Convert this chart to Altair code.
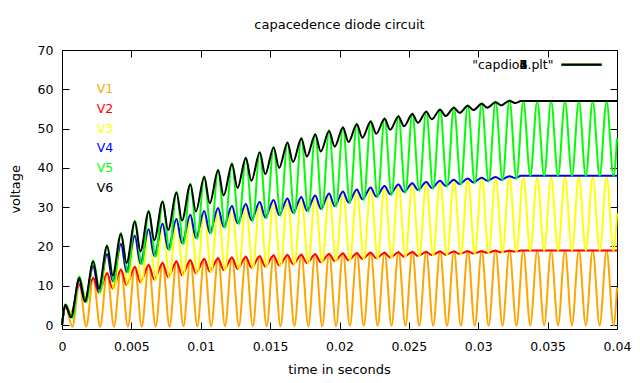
import altair as alt
import pandas as pd

# ---------------- data ----------------
PERIOD = 0.001          # one cycle of the source = 1 ms
T_END = 0.04
T_SETTLE = 0.0331       # where V2, V4, V6 become flat

names = ["V1", "V2", "V3", "V4", "V5", "V6"]
colors = ["#ffa500", "#ff0000", "#ffff00", "#0000ff", "#00ff00", "#000000"]

x_ticks = [0, 0.005, 0.01, 0.015, 0.02, 0.025, 0.03, 0.035, 0.04]
y_ticks = [0, 10, 20, 30, 40, 50, 60, 70]

# oscillating nodes: value at the crest (k+0.25 ms) and the dip (k+0.75 ms) of every cycle k
v1_peak = [4.7, 10.5, 12.2, 13.4, 14.3, 15.0, 15.5, 16.0, 16.4, 16.7,
           17.0, 17.2, 17.4, 17.6, 17.7, 17.9, 18.0, 18.1, 18.2, 18.3,
           18.4, 18.5, 18.6, 18.6, 18.7, 18.8, 18.8, 18.9, 18.9, 19.0,
           19.0, 19.1, 19.1, 19.0, 19.0, 19.0, 19.0, 19.0, 19.0, 19.0]
v1_trough = [-0.4, -0.4, -0.4, -0.4, -0.4, -0.4, -0.4, -0.4, -0.3, -0.3,
             -0.3, -0.3, -0.3, -0.3, -0.3, -0.3, -0.3, -0.3, -0.3, -0.3,
             -0.2, -0.2, -0.2, -0.2, -0.2, -0.2, -0.2, -0.2, -0.2, -0.2,
             -0.2, -0.2, -0.2, -0.1, -0.1, -0.1, -0.1, -0.1, -0.1, -0.1]
v3_peak = [5.0, 11.6, 15.2, 18.2, 20.8, 22.9, 24.6, 26.0, 27.2, 28.3,
           29.2, 30.0, 30.5, 31.0, 31.5, 32.0, 32.4, 32.8, 33.2, 33.7,
           34.2, 34.7, 35.2, 35.6, 36.0, 36.3, 36.6, 36.9, 37.2, 37.5,
           37.7, 37.9, 38.0, 37.8, 37.8, 37.8, 37.8, 37.8, 37.8, 37.8]
v3_trough = [2.8, 6.3, 8.0, 9.1, 10.0, 10.7, 11.4, 12.0, 12.5, 13.0,
             13.4, 13.8, 14.1, 14.4, 14.7, 15.0, 15.3, 15.6, 15.8, 16.1,
             16.3, 16.6, 16.8, 17.0, 17.2, 17.4, 17.6, 17.7, 17.9, 18.0,
             18.2, 18.3, 18.5, 18.9, 18.9, 18.9, 18.9, 18.9, 18.9, 18.9]
v5_peak = [5.3, 12.4, 16.5, 20.4, 23.5, 26.6, 29.1, 31.6, 33.9, 36.0,
           37.9, 39.6, 41.2, 42.7, 44.1, 45.4, 46.6, 47.7, 48.7, 49.6,
           50.5, 51.3, 52.0, 52.7, 53.3, 53.9, 54.5, 55.0, 55.5, 56.0,
           56.5, 56.9, 57.2, 57.0, 57.0, 57.0, 57.0, 57.0, 57.0, 57.0]
v5_trough = [1.8, 5.8, 8.4, 11.0, 13.4, 15.5, 17.4, 19.1, 20.6, 22.0,
             23.3, 24.8, 25.7, 26.5, 27.2, 27.8, 28.4, 28.9, 29.4, 30.1,
             31.0, 31.8, 32.5, 33.1, 33.7, 34.2, 34.7, 35.2, 35.7, 36.1,
             36.5, 36.8, 37.2, 37.9, 37.9, 37.9, 37.9, 37.9, 37.9, 37.9]
osc_end = [9.5, 28.5, 47.5]          # V1, V3, V5 at t = 0.04

# ripple nodes: local max (k+0.25 ms) and local min (k+0.65 ms) of cycle k, then flat
v2_max = [4.5, 10.3, 12.0, 13.2, 14.1, 14.8, 15.3, 15.8, 16.2, 16.5,
          16.8, 17.0, 17.2, 17.4, 17.5, 17.7, 17.8, 17.9, 18.0, 18.1,
          18.2, 18.3, 18.4, 18.4, 18.5, 18.6, 18.6, 18.7, 18.7, 18.8,
          18.8, 18.9, 18.9]
v2_min = [3.0, 6.5, 8.2, 9.3, 10.2, 10.9, 11.6, 12.2, 12.7, 13.2,
          13.6, 14.0, 14.3, 14.6, 14.9, 15.2, 15.5, 15.8, 16.0, 16.3,
          16.5, 16.8, 17.0, 17.2, 17.4, 17.6, 17.8, 17.9, 18.1, 18.2,
          18.4, 18.5, 18.7]
v4_max = [5.0, 11.5, 15.0, 18.0, 20.6, 22.7, 24.4, 25.8, 27.0, 28.1,
          29.0, 29.8, 30.3, 30.8, 31.3, 31.8, 32.2, 32.6, 33.0, 33.5,
          34.0, 34.5, 35.0, 35.4, 35.8, 36.1, 36.4, 36.7, 37.0, 37.3,
          37.5, 37.7, 37.9]
v4_min = [2.0, 6.0, 8.6, 11.2, 13.6, 15.7, 17.6, 19.3, 20.8, 22.2,
          23.5, 25.0, 25.9, 26.7, 27.4, 28.0, 28.6, 29.1, 29.6, 30.3,
          31.2, 32.0, 32.7, 33.3, 33.9, 34.4, 34.9, 35.4, 35.9, 36.3,
          36.7, 37.0, 37.4]
v6_max = [5.2, 12.0, 16.2, 20.1, 23.2, 26.3, 28.9, 31.4, 33.7, 35.8,
          37.7, 39.4, 41.0, 42.5, 43.9, 45.2, 46.4, 47.5, 48.5, 49.4,
          50.3, 51.1, 51.8, 52.5, 53.1, 53.7, 54.3, 54.8, 55.3, 55.8,
          56.3, 56.7, 57.1]
v6_min = [2.0, 6.0, 9.3, 12.6, 15.8, 18.8, 21.6, 24.2, 26.6, 28.9,
          31.0, 33.0, 34.9, 36.7, 38.4, 40.0, 41.5, 42.9, 44.2, 45.4,
          46.6, 47.7, 48.7, 49.7, 50.6, 51.5, 52.4, 53.2, 54.0, 54.7,
          55.3, 55.9, 56.5]
settle_level = [19.0, 38.0, 57.0]    # V2, V4, V6

label_x = 0.0025
label_y = [60, 55, 50, 45, 40, 35]
key_title = '"capdio1.plt"'
key_overprint = ["2", "3", "4", "5", "6"]   # digits printed over each other in the key

# ---------------- build the long table ----------------
rows = []


def add_osc(name, peaks, troughs, end):
    rows.append({"name": name, "t": 0.0, "v": 0.0})
    for k, (p, q) in enumerate(zip(peaks, troughs)):
        rows.append({"name": name, "t": (k + 0.25) * PERIOD, "v": p})
        rows.append({"name": name, "t": (k + 0.75) * PERIOD, "v": q})
    rows.append({"name": name, "t": T_END, "v": end})


def add_ripple(name, maxs, mins, level):
    rows.append({"name": name, "t": 0.0, "v": 0.0})
    for k, (p, q) in enumerate(zip(maxs, mins)):
        rows.append({"name": name, "t": (k + 0.25) * PERIOD, "v": p})
        rows.append({"name": name, "t": (k + 0.65) * PERIOD, "v": q})
    rows.append({"name": name, "t": T_SETTLE, "v": level})
    rows.append({"name": name, "t": T_END, "v": level})


add_osc("V1", v1_peak, v1_trough, osc_end[0])
add_ripple("V2", v2_max, v2_min, settle_level[0])
add_osc("V3", v3_peak, v3_trough, osc_end[1])
add_ripple("V4", v4_max, v4_min, settle_level[1])
add_osc("V5", v5_peak, v5_trough, osc_end[2])
add_ripple("V6", v6_max, v6_min, settle_level[2])
df = pd.DataFrame(rows)

labels_df = pd.DataFrame({"name": names, "t": [label_x] * 6, "v": label_y})
key_df = pd.DataFrame({"name": names})
frame_df = pd.DataFrame({"t": [0, T_END], "v": [-1, 70]})

FONT = "DejaVu Sans"
FS = 12.5
color_scale = alt.Scale(domain=names, range=colors)
x_scale = alt.Scale(domain=[0, T_END], nice=False, zero=False)
y_scale = alt.Scale(domain=[-1, 70], nice=False, zero=False)

x_enc = alt.X("t:Q", scale=x_scale, title=None,
              axis=alt.Axis(values=x_ticks, format="~g", orient="bottom",
                            offset=-7, tickSize=7, domain=False, grid=False,
                            labelPadding=21, labelBaseline="alphabetic",
                            labelFlush=False, labelOverlap=False))
y_enc = alt.Y("v:Q", scale=y_scale, title=None,
              axis=alt.Axis(values=y_ticks, orient="left", offset=-7,
                            tickSize=7, domain=False, grid=False,
                            labelPadding=9, labelFlush=False))
c_enc = alt.Color("name:N", scale=color_scale, legend=None)

layers = []
for n in names:
    layers.append(
        alt.Chart(df).transform_filter(alt.datum.name == n)
        .mark_line(strokeWidth=2, interpolate="monotone")
        .encode(x=x_enc, y=y_enc, color=c_enc)
    )

layers.append(
    alt.Chart(labels_df).mark_text(align="left", baseline="middle",
                                   font=FONT, fontSize=FS)
    .encode(x=x_enc, y=y_enc, text="name:N", color=c_enc)
)

# key: sample lines of all six plots drawn on the same spot, black last
layers.append(
    alt.Chart(key_df).mark_rule(strokeWidth=2)
    .encode(x=alt.value(499.5), x2=alt.value(539.5), y=alt.value(14.7), color=c_enc)
)
layers.append(
    alt.Chart(pd.DataFrame({"s": [key_title]}))
    .mark_text(align="right", baseline="middle", font=FONT, fontSize=FS, color="black")
    .encode(x=alt.value(491.5), y=alt.value(14.7), text="s:N")
)
layers.append(
    alt.Chart(pd.DataFrame({"s": key_overprint}))
    .mark_text(align="right", baseline="middle", font=FONT, fontSize=FS, color="black")
    .encode(x=alt.value(465.5), y=alt.value(14.7), text="s:N")
)

layers.append(
    alt.Chart(pd.DataFrame({"s": ["capacedence diode circuit"]}))
    .mark_text(align="center", baseline="alphabetic", font=FONT, fontSize=13, color="black")
    .encode(x=alt.value(277.5), y=alt.value(-21), text="s:N")
)
layers.append(
    alt.Chart(pd.DataFrame({"s": ["time in seconds"]}))
    .mark_text(align="center", baseline="alphabetic", font=FONT, fontSize=13, color="black")
    .encode(x=alt.value(277.5), y=alt.value(323.5), text="s:N")
)
layers.append(
    alt.Chart(pd.DataFrame({"s": ["voltage"]}))
    .mark_text(align="center", baseline="middle", font=FONT, fontSize=13,
               color="black", angle=270)
    .encode(x=alt.value(-46.5), y=alt.value(139.3), text="s:N")
)

main = alt.layer(*layers)

frame = alt.Chart(frame_df).mark_point(opacity=0).encode(
    x=alt.X("t:Q", scale=x_scale, title=None,
            axis=alt.Axis(values=x_ticks, orient="top", offset=-7, tickSize=7,
                          labels=False, domain=False, grid=False)),
    y=alt.Y("v:Q", scale=y_scale, title=None,
            axis=alt.Axis(values=y_ticks, orient="right", offset=-7, tickSize=7,
                          labels=False, domain=False, grid=False)),
)

chart = (
    alt.layer(main, frame)
    .resolve_scale(x="independent", y="independent")
    .properties(width=555, height=279, autosize="none", background="white",
                padding={"left": 54, "top": 42, "right": 15, "bottom": 46})
    .configure_view(stroke="black", strokeWidth=1)
    .configure_axis(labelFont=FONT, labelFontSize=FS, labelColor="black",
                    tickColor="black", tickWidth=1)
)

chart.save("out.html", embed_options={"renderer": "svg", "actions": False})
